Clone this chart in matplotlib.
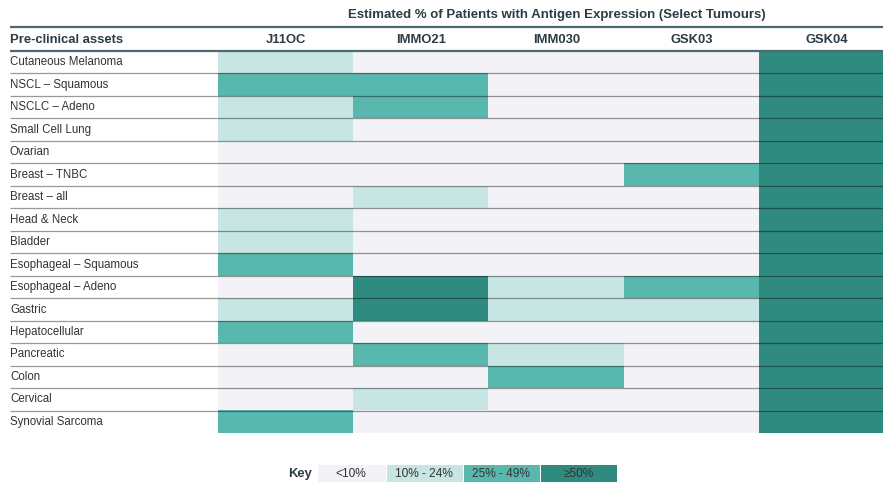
import numpy as np
import matplotlib
matplotlib.use("Agg")
from matplotlib import pyplot as plt
from matplotlib.colors import ListedColormap, BoundaryNorm

plt.rcParams['font.family'] = ['Liberation Sans', 'DejaVu Sans']

title = "Estimated % of Patients with Antigen Expression (Select Tumours)"
assets = ["J11OC", "IMMO21", "IMM030", "GSK03", "GSK04"]
tumours = ["Cutaneous Melanoma", "NSCL \u2013 Squamous", "NSCLC \u2013 Adeno",
           "Small Cell Lung", "Ovarian", "Breast \u2013 TNBC", "Breast \u2013 all",
           "Head & Neck", "Bladder", "Esophageal \u2013 Squamous",
           "Esophageal \u2013 Adeno", "Gastric", "Hepatocellular", "Pancreatic",
           "Colon", "Cervical", "Synovial Sarcoma"]
# expression band per tumour/asset: 0 <10%, 1 10-24%, 2 25-49%, 3 >=50%
levels = [
    [1, 0, 0, 0, 3],
    [2, 2, 0, 0, 3],
    [1, 2, 0, 0, 3],
    [1, 0, 0, 0, 3],
    [0, 0, 0, 0, 3],
    [0, 0, 0, 2, 3],
    [0, 1, 0, 0, 3],
    [1, 0, 0, 0, 3],
    [1, 0, 0, 0, 3],
    [2, 0, 0, 0, 3],
    [0, 3, 1, 2, 3],
    [1, 3, 1, 1, 3],
    [2, 0, 0, 0, 3],
    [0, 2, 1, 0, 3],
    [0, 0, 2, 0, 3],
    [0, 1, 0, 0, 3],
    [2, 0, 0, 0, 3],
]
key_labels = ["<10%", "10% - 24%", "25% - 49%", "\u226550%"]

band_colors = ["#f2f2f7", "#c6e5e3", "#59b8ad", "#2f8b7f"]
cmap = ListedColormap(band_colors)
norm = BoundaryNorm([-0.5, 0.5, 1.5, 2.5, 3.5], cmap.N)
head_color = "#2c3b44"
rule_color = "#4d6a71"
text_color = "#333333"

W, H = 883, 485
fig = plt.figure(figsize=(W / 100, H / 100), dpi=100)

# table area in pixels
left_px, top_px = 218, 52
col_w, row_h = 135.3, 22.47
n_rows, n_cols = len(tumours), len(assets)
ax = fig.add_axes([left_px / W, 1 - (top_px + n_rows * row_h) / H,
                   n_cols * col_w / W, n_rows * row_h / H])
ax.imshow(np.array(levels), cmap=cmap, norm=norm, aspect='auto',
          extent=[0, n_cols, n_rows, 0], interpolation='nearest')
ax.set_xlim(0, n_cols)
ax.set_ylim(n_rows, 0)
ax.axis('off')

label_x = (10 - left_px) / col_w
# row separators
ax.hlines(np.arange(1, n_rows), label_x, n_cols, colors='black', alpha=0.4,
          linewidth=0.9, clip_on=False)

for i, name in enumerate(tumours):
    ax.text(label_x, i + 0.46, name, ha='left', va='center', fontsize=8.3,
            color=text_color, clip_on=False)

# header band
head_top = -(top_px - 28) / row_h
ax.hlines([0, head_top], label_x, n_cols, colors=rule_color, linewidth=1.6,
          clip_on=False)
ax.text(label_x, head_top / 2, "Pre-clinical assets", ha='left', va='center',
        fontsize=9.4, fontweight='bold', color=head_color, clip_on=False)
for j, a in enumerate(assets):
    ax.text(j + 0.5, head_top / 2, a, ha='center', va='center', fontsize=9.4,
            fontweight='bold', color=head_color, clip_on=False)
ax.text((557 - left_px) / col_w, -(top_px - 15) / row_h, title, ha='center',
        va='center', fontsize=9.5, fontweight='bold', color=head_color,
        clip_on=False)

# key strip, drawn in pixel units
key_edges = [317, 385.5, 462.5, 539.5, 617]
kax = fig.add_axes([0, 0, 1, 1], facecolor='none')
kax.set_xlim(0, W)
kax.set_ylim(H, 0)
kax.axis('off')
kax.pcolormesh(key_edges, [465, 483], np.arange(len(key_labels)).reshape(1, -1),
               cmap=cmap, norm=norm, edgecolors='white', linewidth=0.4)
for k, lab in enumerate(key_labels):
    kax.text((key_edges[k] + key_edges[k + 1]) / 2, 474, lab, ha='center',
             va='center', fontsize=8.6, color=text_color)
kax.text(312, 474, "Key", ha='right', va='center', fontsize=9.4,
         fontweight='bold', color=head_color)

fig.savefig("out.png", dpi=100)
